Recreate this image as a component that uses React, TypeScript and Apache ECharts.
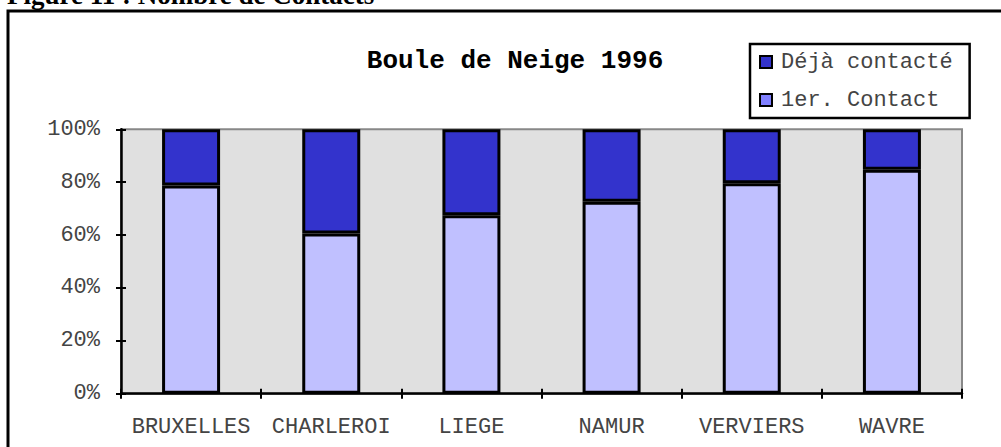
import React, { useEffect, useRef } from 'react';
import * as echarts from 'echarts';

const categories = ['BRUXELLES', 'CHARLEROI', 'LIEGE', 'NAMUR', 'VERVIERS', 'WAVRE'];
const premierContact = [78.7, 60.6, 67.5, 72.6, 79.6, 84.7];
const dejaContacte = [21.3, 39.4, 32.5, 27.4, 20.4, 15.3];
const seriesNames = ['Déjà contacté', '1er. Contact'];
const chartTitle = 'Boule de Neige 1996';
const figureCaption = 'Figure 11 : Nombre de Contacts';

const MONO = '"Liberation Mono", "DejaVu Sans Mono", monospace';

export default function App() {
  const ref = useRef<HTMLDivElement>(null);
  useEffect(() => {
    if (!ref.current) return;
    const chart = echarts.init(ref.current, undefined, { renderer: 'svg' });
    const axisTickBase = { show: true, interval: 0, length: 5, lineStyle: { color: '#000', width: 2 } };
    chart.setOption({
      animation: false,
      backgroundColor: '#fff',
      title: {
        text: chartTitle,
        left: 510,
        top: 43,
        textAlign: 'center',
        textStyle: { fontFamily: MONO, fontWeight: 'bold', fontSize: 26, color: '#000' },
      },
      legend: {
        orient: 'vertical',
        left: 750,
        top: 44,
        data: [
          { name: seriesNames[0] },
          { name: seriesNames[1], itemStyle: { color: '#8080FF' } },
        ],
        icon: 'rect',
        itemWidth: 12,
        itemHeight: 12,
        itemGap: 16,
        padding: [7, 17, 7, 9],
        borderColor: '#000',
        borderWidth: 2.5,
        backgroundColor: '#fff',
        itemStyle: { borderColor: '#000', borderWidth: 2 },
        textStyle: { fontFamily: MONO, fontSize: 22, color: '#444', padding: [0, 0, 0, 4] },
      },
      grid: {
        left: 121,
        top: 129.3,
        width: 841,
        height: 264.4,
        show: true,
        backgroundColor: '#E0E0E0',
        borderColor: '#888',
        borderWidth: 2,
      },
      xAxis: [
        {
          type: 'category',
          data: categories,
          position: 'bottom',
          axisLine: { show: true, lineStyle: { color: '#000', width: 2.5 } },
          axisTick: { ...axisTickBase },
          axisLabel: { fontFamily: MONO, fontSize: 22, color: '#444', margin: 23, interval: 0 },
          splitLine: { show: false },
        },
        {
          type: 'category',
          data: categories,
          position: 'bottom',
          axisLine: { show: false },
          axisTick: { ...axisTickBase, inside: true },
          axisLabel: { show: false },
          splitLine: { show: false },
        },
      ],
      yAxis: [
        {
          type: 'value',
          min: 0,
          max: 100,
          interval: 20,
          position: 'left',
          axisLine: { show: true, lineStyle: { color: '#000', width: 2.5 } },
          axisTick: { ...axisTickBase },
          axisLabel: { fontFamily: MONO, fontSize: 22, color: '#444', margin: 21, formatter: '{value}%' },
          splitLine: { show: false },
        },
        {
          type: 'value',
          min: 0,
          max: 100,
          interval: 20,
          position: 'left',
          axisLine: { show: false },
          axisTick: { ...axisTickBase, inside: true },
          axisLabel: { show: false },
          splitLine: { show: false },
        },
      ],
      series: [
        {
          name: seriesNames[1],
          type: 'bar',
          stack: 'total',
          barWidth: 58,
          data: premierContact,
          itemStyle: { color: '#C0C0FF', borderColor: '#000', borderWidth: 3 },
        },
        {
          name: seriesNames[0],
          type: 'bar',
          stack: 'total',
          barWidth: 58,
          data: dejaContacte,
          itemStyle: { color: '#3333CC', borderColor: '#000', borderWidth: 3 },
        },
      ],
      graphic: [
        {
          type: 'rect',
          silent: true,
          z: 100,
          shape: { x: 8, y: 11, width: 1010, height: 460 },
          style: { fill: 'none', stroke: '#000', lineWidth: 3 },
        },
        {
          type: 'text',
          x: 7,
          y: -5,
          z: 100,
          style: {
            text: figureCaption,
            fontFamily: '"Liberation Serif", serif',
            fontWeight: 'bold',
            fontSize: 27,
            fill: '#000',
            verticalAlign: 'middle',
          },
        },
      ],
    });
    return () => chart.dispose();
  }, []);
  return (
    <div
      ref={ref}
      style={{ position: 'fixed', left: 0, top: 0, width: 1001, height: 447 }}
    />
  );
}
